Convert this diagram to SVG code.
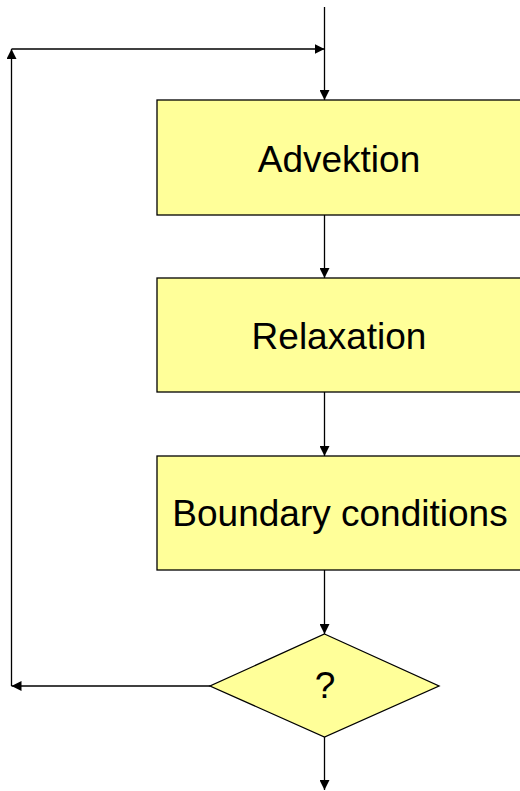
<svg xmlns="http://www.w3.org/2000/svg" width="520" height="791" viewBox="0 0 520 791">
<defs>
<style>
.box{fill:#ffff99;stroke:#000;stroke-width:1.3}
.lbl{font-family:"Liberation Sans",Arial,sans-serif;font-size:37px;fill:#000;text-anchor:middle}
.ln{fill:none;stroke:#000;stroke-width:1.3}
</style>
<marker id="ah" viewBox="0 0 10 10" refX="10" refY="5" markerWidth="10" markerHeight="10" markerUnits="userSpaceOnUse" orient="auto">
<path d="M0,0 L10,5 L0,10 Z" fill="#000"/>
</marker>
</defs>
<g id="connectors">
<line class="ln" x1="324.5" y1="7" x2="324.5" y2="100" marker-end="url(#ah)"/>
<line class="ln" x1="324.5" y1="215" x2="324.5" y2="278" marker-end="url(#ah)"/>
<line class="ln" x1="324.5" y1="392" x2="324.5" y2="456" marker-end="url(#ah)"/>
<line class="ln" x1="324.5" y1="570" x2="324.5" y2="634" marker-end="url(#ah)"/>
<line class="ln" x1="324.5" y1="737" x2="324.5" y2="790" marker-end="url(#ah)"/>
<line class="ln" x1="210" y1="686" x2="11.5" y2="686" marker-end="url(#ah)"/>
<line class="ln" x1="11.5" y1="686" x2="11.5" y2="49" marker-end="url(#ah)"/>
<line class="ln" x1="11.5" y1="49" x2="324.5" y2="49" marker-end="url(#ah)"/>
</g>
<g id="advektion">
<rect class="box" x="157" y="100" width="366" height="115"/>
<text class="lbl" x="339" y="172">Advektion</text>
</g>
<g id="relaxation">
<rect class="box" x="157" y="278" width="366" height="114"/>
<text class="lbl" x="339" y="349">Relaxation</text>
</g>
<g id="boundary">
<rect class="box" x="157" y="456" width="366" height="114"/>
<text class="lbl" x="340" y="526">Boundary conditions</text>
</g>
<g id="decision">
<polygon class="box" points="324.5,634 439,686 324.5,737 210,686"/>
<text class="lbl" x="325" y="698">?</text>
</g>
</svg>
